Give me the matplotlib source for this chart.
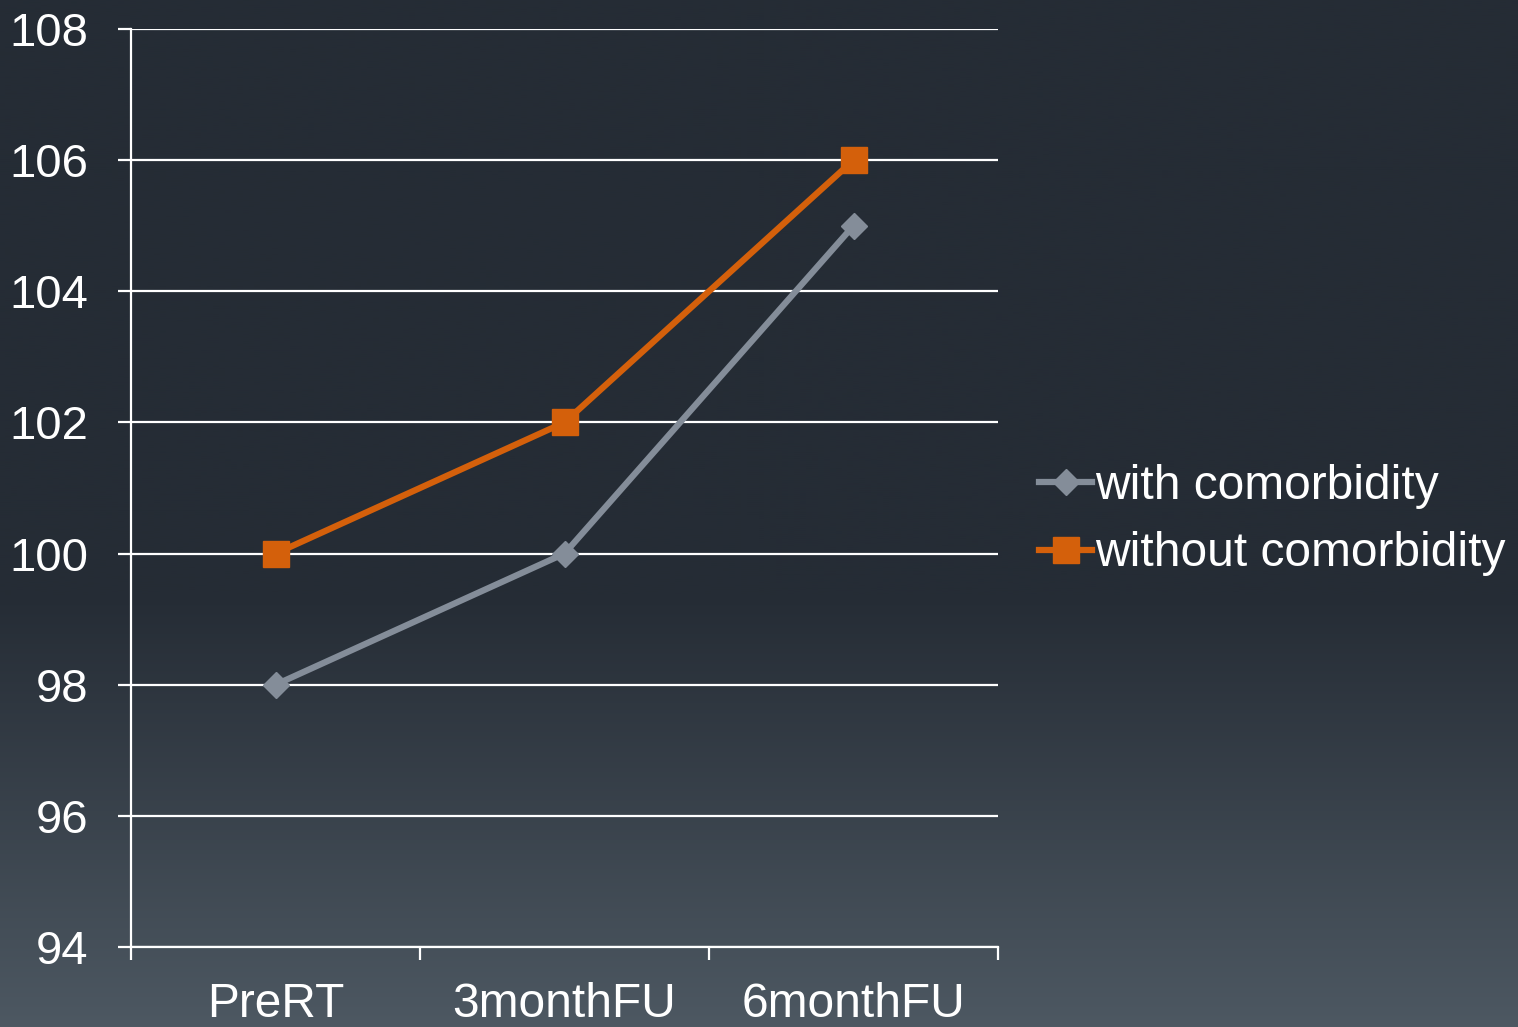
import numpy as np
import matplotlib
matplotlib.use("Agg")
import matplotlib.pyplot as plt

categories = ["PreRT", "3monthFU", "6monthFU"]
with_comorbidity = [98, 100, 105]
without_comorbidity = [100, 102, 106]
y_ticks = [94, 96, 98, 100, 102, 104, 106, 108]

plt.rcParams["font.family"] = ["Liberation Sans", "DejaVu Sans"]

W, H, DPI = 1518, 1027, 100
fig = plt.figure(figsize=(W / DPI, H / DPI), dpi=DPI)

# background: flat dark slate at top, fading lighter toward the bottom
bg = fig.add_axes([0, 0, 1, 1], zorder=-10)
bg.axis("off")
t = np.linspace(0, 1, 512)
top = np.array([0x25, 0x2c, 0x35]) / 255
bot = np.array([0x4d, 0x58, 0x62]) / 255
frac = np.clip((t - 0.58) / 0.42, 0, 1)
cols = top[None, :] * (1 - frac[:, None]) + bot[None, :] * frac[:, None]
bg.imshow(cols[:, None, :], aspect="auto", extent=[0, 1, 1, 0])
bg.set_xlim(0, 1)
bg.set_ylim(1, 0)

ax = fig.add_axes([131 / W, 1 - 947 / H, (998 - 131) / W, (947 - 29) / H])
ax.patch.set_alpha(0)

x = np.arange(len(categories))
gray = "#848d99"
orange = "#d4600b"
ax.plot(x, with_comorbidity, color=gray, lw=4.5, marker="D", ms=13.5,
        label="with comorbidity", zorder=3)
ax.plot(x, without_comorbidity, color=orange, lw=4.5, marker="s", ms=19,
        label="without comorbidity", zorder=4)

ax.set_xlim(-0.5, len(categories) - 0.5)
ax.set_ylim(94, 108)
ax.set_yticks(y_ticks)
ax.yaxis.grid(True, color="white", lw=1.6)
ax.set_axisbelow(True)

for s in ["top", "right"]:
    ax.spines[s].set_visible(False)
for s in ["left", "bottom"]:
    ax.spines[s].set_color("white")
    ax.spines[s].set_linewidth(1.6)

ax.tick_params(axis="y", colors="white", labelsize=34, length=9.5, width=1.6,
               pad=21, labelcolor="white")
ax.set_xticks(np.arange(len(categories) + 1) - 0.5)
ax.set_xticklabels([])
ax.set_xticks(x, minor=True)
ax.set_xticklabels(categories, minor=True)
ax.tick_params(axis="x", which="major", colors="white", length=9.5, width=1.6)
ax.tick_params(axis="x", which="minor", length=0, labelsize=34.5, pad=25,
               labelcolor="white")

leg = ax.legend(loc="center left", bbox_to_anchor=(1.047, 0.465), frameon=False,
                fontsize=34.5, handlelength=1.12, handletextpad=0.05,
                labelspacing=0.47, borderaxespad=0, borderpad=0)
for txt in leg.get_texts():
    txt.set_color("white")

fig.savefig("out.png", dpi=DPI)
